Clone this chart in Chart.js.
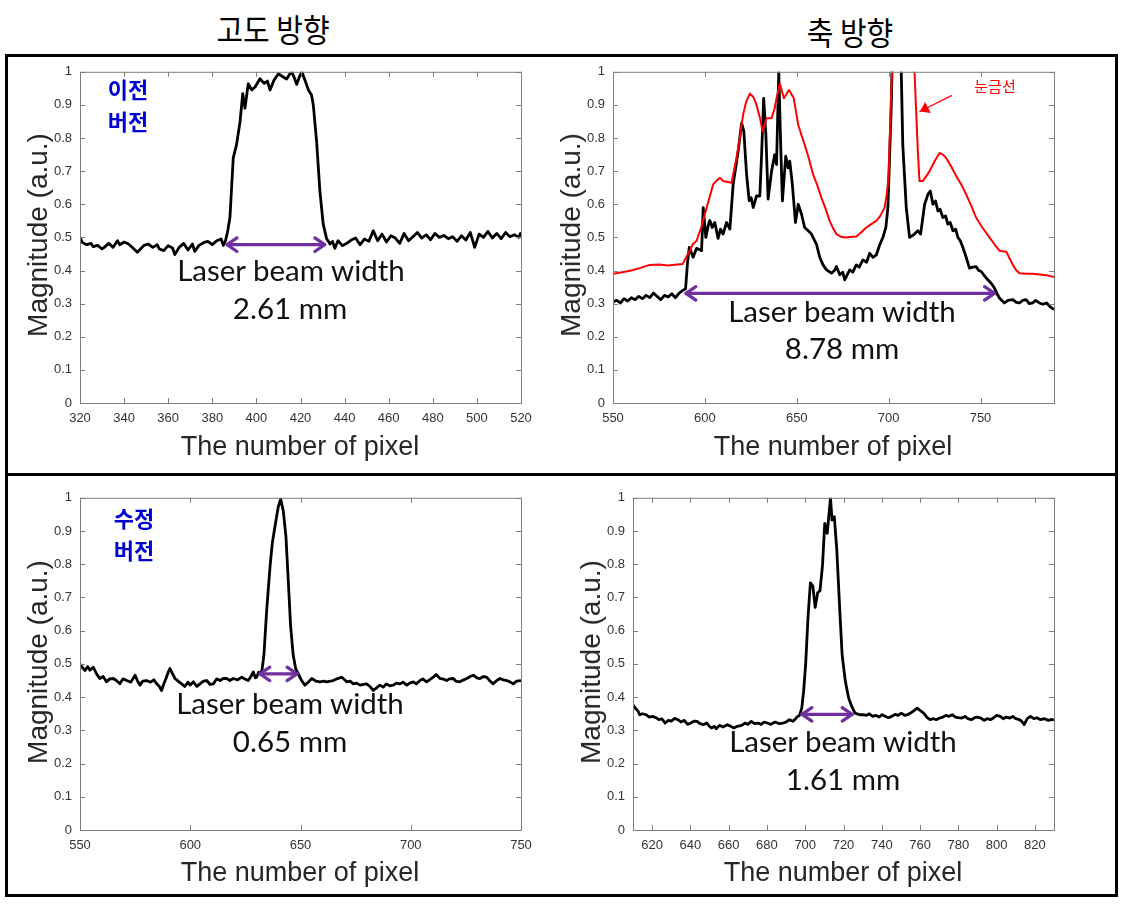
<!DOCTYPE html>
<html>
<head>
<meta charset="utf-8">
<script src="https://cdn.jsdelivr.net/npm/chart.js@4.4.1/dist/chart.umd.min.js"></script>
<style>
  body { margin:0; background:#fff; width:1129px; height:905px; position:relative; overflow:hidden; font-family:"Liberation Sans", Arial, sans-serif; }
  .box { position:absolute; border:3px solid #000; box-sizing:border-box; }
  canvas { position:absolute; }
  .txt { position:absolute; transform:translate(-50%,-50%); white-space:nowrap; line-height:1; }
  .head { font-family:"Noto Sans CJK KR"; font-size:29px; font-weight:400; color:#000; transform:translate(-50%,-50%) scaleY(1.1); }
  .note { font-family:Lato; font-size:29.5px; color:#111; }
  .ver { font-family:"Noto Sans CJK KR"; font-weight:700; font-size:22px; color:#0000d0; line-height:32px; text-align:center; }
  .red { font-family:"Noto Sans CJK KR"; font-size:15px; color:#f00; }
  .xt { font-size:27px; color:#262626; }
  .yt { font-size:28px; color:#262626; transform:translate(-50%,-50%) rotate(-90deg); }
</style>
</head>
<body>
<div class="box" style="left:5px;top:54px;width:1113px;height:422px"></div>
<div class="box" style="left:5px;top:473px;width:1113px;height:424px"></div>

<div class="txt head" style="left:273px;top:28px">고도 방향</div>
<div class="txt head" style="left:850px;top:31px">축 방향</div>

<canvas id="chartTL" width="526" height="382" style="left:20px;top:56px"></canvas>
<canvas id="chartTR" width="526" height="382" style="left:553px;top:56px"></canvas>
<canvas id="chartBL" width="526" height="383" style="left:20px;top:482px"></canvas>
<canvas id="chartBR" width="506" height="383" style="left:573px;top:482px"></canvas>

<div class="txt ver" style="left:128px;top:104px">이전<br>버전</div>
<div class="txt ver" style="left:134px;top:533px">수정<br>버전</div>
<div class="txt red" style="left:995px;top:85px">눈금선</div>

<div class="txt note" style="left:291px;top:270px">Laser beam width</div>
<div class="txt note" style="left:290px;top:308px">2.61 mm</div>
<div class="txt note" style="left:842px;top:311px">Laser beam width</div>
<div class="txt note" style="left:842px;top:348px">8.78 mm</div>
<div class="txt note" style="left:290px;top:703px">Laser beam width</div>
<div class="txt note" style="left:290px;top:741px">0.65 mm</div>
<div class="txt note" style="left:843px;top:741px">Laser beam width</div>
<div class="txt note" style="left:843px;top:779px">1.61 mm</div>

<div class="txt xt" style="left:300px;top:446px">The number of pixel</div>
<div class="txt xt" style="left:833px;top:446px">The number of pixel</div>
<div class="txt xt" style="left:300px;top:872px">The number of pixel</div>
<div class="txt xt" style="left:843px;top:872px">The number of pixel</div>
<div class="txt yt" style="left:38px;top:235px">Magnitude (a.u.)</div>
<div class="txt yt" style="left:571px;top:235px">Magnitude (a.u.)</div>
<div class="txt yt" style="left:38px;top:662px">Magnitude (a.u.)</div>
<div class="txt yt" style="left:591px;top:662px">Magnitude (a.u.)</div>

<script>
"use strict";

// tick labels
const yTicks = [0, 0.1, 0.2, 0.3, 0.4, 0.5, 0.6, 0.7, 0.8, 0.9, 1];
const tlTicks = [320, 340, 360, 380, 400, 420, 440, 460, 480, 500, 520];
const trTicks = [550, 600, 650, 700, 750];
const blTicks = [550, 600, 650, 700, 750];
const brTicks = [620, 640, 660, 680, 700, 720, 740, 760, 780, 800, 820];

// elevation direction, old version
const tlX = [320,321,323,325,326,328,330,331,333,335,337,338,340,342,344,346,347,349,351,353,
  355,356,358,360,362,363,365,367,369,371,372,374,376,378,380,382,384,385,386,387,
  388,389.5,391,392.6,393.8,394.8,396.3,397.9,399.5,401.6,403.5,405,406.2,408,410,412,413.7,415,416,417,
  418.3,419.5,420.6,422,423.6,425,425.8,427.3,428.8,430.3,431.8,433.4,434.5,435.6,437,439,441,443,445,447,
  449,451,453,455,457,459,461,463,465,467,469,471,473,475,477,479,481,483,485,487,
  489,491,493,495,497,499,501,503,505,507,509,511,513,515,517,519,520];
const tlY = [0.500,0.485,0.478,0.482,0.472,0.476,0.465,0.470,0.482,0.470,0.490,0.478,0.486,0.480,0.468,0.455,0.462,0.476,0.480,0.470,
  0.478,0.465,0.460,0.475,0.468,0.448,0.470,0.482,0.462,0.480,0.458,0.476,0.484,0.488,0.478,0.490,0.495,0.476,0.490,0.520,
  0.560,0.740,0.780,0.850,0.934,0.890,0.964,0.945,0.955,0.979,0.965,0.972,0.945,0.975,0.994,0.985,0.978,0.992,1.000,0.985,
  0.962,0.985,1.000,0.975,0.945,0.930,0.900,0.790,0.640,0.540,0.497,0.480,0.488,0.467,0.490,0.475,0.482,0.492,0.498,0.478,
  0.495,0.488,0.520,0.490,0.510,0.486,0.505,0.498,0.482,0.512,0.490,0.502,0.515,0.498,0.508,0.493,0.512,0.500,0.506,0.496,
  0.502,0.488,0.505,0.492,0.515,0.470,0.510,0.500,0.518,0.498,0.512,0.496,0.515,0.502,0.508,0.500,0.515];

// axial direction, old version (black profile)
const trX = [550,552,554,556,558,560,562,564,566,568,570,572,574,576,578,580,582,584,586,588,
  589.5,590.5,591.5,593.6,595.5,598.2,599.1,600.5,602,602.7,604,605.4,607.2,608.5,609.9,611.8,613.6,615.4,618.1,620,
  621.2,622.7,624.1,625.2,626.3,628.1,629.9,630.8,632,633.2,634.4,636.3,638,639,640.2,641.3,642.2,644,645.3,646.2,
  647.6,649.3,650.8,652.6,654.3,656.2,658,660.7,662.5,664.3,666.2,668.9,670.5,671.6,673.4,675,676.1,678.8,680.5,682.4,
  684,686,688,689.7,691.5,693.3,695.1,696.9,698.5,699.6,701.4,702,704,706,706.8,707.7,709.6,711.4,712.8,714.1,
  715.9,717.4,719.6,721.4,722.7,724.1,725.5,726.8,728,729.5,731,732.2,733.5,735,736.5,737.7,739,740.4,742.2,744,
  745.8,747.6,749,750.4,752,754,756,757.6,759,760.3,761.5,763,765,767.6,769.5,771.2,773,774.8,776.5,778.4,
  780,782,784,786,788,790];
const trBlack = [0.305,0.310,0.302,0.315,0.308,0.318,0.312,0.322,0.315,0.325,0.318,0.332,0.322,0.312,0.325,0.320,0.330,0.318,0.332,0.340,
  0.345,0.420,0.470,0.440,0.467,0.460,0.590,0.500,0.540,0.551,0.530,0.545,0.497,0.525,0.510,0.545,0.525,0.660,0.760,0.845,
  0.820,0.690,0.611,0.620,0.590,0.625,0.625,0.740,0.920,0.810,0.616,0.700,0.750,0.720,1.000,0.770,0.610,0.745,0.710,0.730,
  0.660,0.545,0.600,0.570,0.530,0.520,0.510,0.480,0.440,0.417,0.402,0.392,0.400,0.412,0.387,0.395,0.372,0.402,0.395,0.417,
  0.410,0.432,0.425,0.452,0.440,0.447,0.477,0.500,0.530,0.590,0.890,1.050,1.300,1.300,1.020,0.780,0.590,0.500,0.505,0.510,
  0.520,0.510,0.600,0.630,0.640,0.600,0.610,0.580,0.585,0.560,0.565,0.540,0.545,0.520,0.525,0.500,0.490,0.470,0.440,0.407,
  0.410,0.412,0.400,0.397,0.385,0.372,0.360,0.347,0.330,0.317,0.310,0.302,0.310,0.312,0.304,0.302,0.310,0.312,0.300,0.302,
  0.310,0.302,0.298,0.302,0.290,0.282];

// axial direction, old version (red, scale line)
const trRedX = [550,555,560,565,570,575,580,585,588,590,591.8,593.5,595.5,598,600,602,604.5,606.5,608.2,610,
  612,614.5,617.2,619,620.8,622.5,624.5,626.3,628.1,630,631.4,633.5,636.3,638,639,640.8,643,645.8,648.4,650.8,
  652.5,654.3,656.5,658.9,661,663.4,665.5,667.9,670,671.6,674,677,680,682.4,685,687.9,690.5,693.3,695.5,697.8,
  699,700,701.4,702.3,705,710,713,714.1,715.9,716.8,718.6,720.5,722.3,725,727.7,729.5,731.3,734,736.8,739.5,
  742.2,745,747.6,751,754.9,757.5,760.3,762,764,766,767.6,769.5,771.2,775,778.4,782,786,790];
const trRed = [0.390,0.395,0.400,0.408,0.417,0.418,0.415,0.418,0.420,0.442,0.460,0.480,0.490,0.530,0.571,0.610,0.660,0.672,0.680,0.670,
  0.668,0.665,0.740,0.800,0.870,0.910,0.934,0.925,0.900,0.860,0.820,0.860,0.860,0.890,0.920,0.965,0.920,0.945,0.920,0.840,
  0.810,0.780,0.740,0.690,0.660,0.620,0.590,0.550,0.525,0.510,0.502,0.500,0.502,0.503,0.515,0.530,0.540,0.550,0.565,0.590,
  0.630,0.690,0.940,1.050,1.300,1.300,1.200,1.000,0.760,0.670,0.670,0.685,0.700,0.730,0.755,0.750,0.740,0.715,0.685,0.660,
  0.630,0.595,0.560,0.530,0.500,0.480,0.460,0.458,0.457,0.435,0.417,0.400,0.392,0.390,0.390,0.388,0.386,0.380];

// elevation direction, revised version
const blX = [550,551,552.3,553.5,554.5,556,557.5,559,560.5,562,563.5,565.1,566.5,568.1,569.5,571.2,573,575,576,577.2,
  578.5,580.2,582,583.5,584.8,586,587,588,589,590,590.8,592,593.1,594.5,596.1,597.5,599,599.9,601.4,603,
  604.4,606,607.5,609,610.5,612,613.5,615,616.5,618,619.5,621.5,623.3,625,626.3,627.5,628.6,629.5,630.1,631,
  631.6,632.5,633.4,634.7,636.2,637.2,638.4,639.9,641,642.2,643.4,644.5,645.5,646.7,647.8,649,650.5,652,653.5,655.1,
  657,658.8,660.5,661.9,663.5,664.9,666.5,668.7,670,671,672.5,674,675.5,677,678.5,680,681.5,683,684.5,686,
  687.5,689,690.5,692.1,693.5,695.1,696.5,698.2,699.5,701.2,702.5,704.2,705.5,707.2,708.5,710.2,711.5,713.3,714.5,716.3,
  717.5,719.3,720.5,722.3,724,725.4,727,728.4,730,731.4,733,734.4,736,737.4,739,740.5,742,743.5,745,746.5,
  748,750];
const blY = [0.500,0.490,0.480,0.492,0.481,0.490,0.470,0.456,0.462,0.446,0.455,0.456,0.450,0.440,0.455,0.450,0.445,0.466,0.450,0.436,
  0.448,0.450,0.445,0.452,0.440,0.432,0.420,0.440,0.456,0.475,0.486,0.470,0.456,0.448,0.440,0.432,0.445,0.436,0.446,0.432,
  0.440,0.448,0.450,0.438,0.440,0.455,0.450,0.456,0.456,0.450,0.456,0.452,0.460,0.454,0.450,0.462,0.476,0.458,0.460,0.475,
  0.470,0.480,0.526,0.665,0.794,0.863,0.913,0.972,0.997,0.960,0.883,0.745,0.615,0.526,0.486,0.470,0.450,0.436,0.445,0.456,
  0.448,0.446,0.448,0.446,0.448,0.450,0.455,0.460,0.452,0.446,0.448,0.440,0.442,0.436,0.438,0.440,0.432,0.420,0.428,0.436,
  0.430,0.440,0.434,0.436,0.442,0.440,0.445,0.436,0.442,0.446,0.440,0.450,0.455,0.446,0.452,0.460,0.468,0.456,0.455,0.450,
  0.455,0.456,0.448,0.446,0.452,0.456,0.462,0.466,0.458,0.456,0.462,0.460,0.448,0.440,0.450,0.456,0.452,0.450,0.446,0.440,
  0.448,0.450];

// axial direction, revised version
const brX = [610,611.5,612.7,613.5,615,616.8,618.5,620.2,622,623.5,625,626.8,628.5,630,631.8,633.5,635,636.8,638.5,640.2,
  642,643.5,645,646.8,648.5,650,651,652.5,653.5,655.2,657,659.3,661,662.7,664.5,666.8,668.5,670,671.8,673.5,
  675.2,677,678.5,680.2,682,684.3,686.5,688.5,690,691.8,693.5,695,696,697,698.2,699.2,700.2,701.5,702.7,704,
  705.2,706.5,707.7,709,710.2,711.5,712.3,713.2,714,715.2,716.5,718.2,719.3,721,722.7,724.3,726,728.5,730.2,732,
  733.5,735.2,737,738.5,740.2,742,743.5,745.2,747,748.5,750.2,752,753.5,755,756.5,758.5,760,761.9,763.5,765.2,
  767,768.5,770.2,772,773.5,775.2,776.8,778.5,780,781.8,783.5,785,786.8,788.5,790,791.8,793.5,795,796.8,798.5,
  800,801.9,803.5,805,806.9,808.5,810,811.9,813,814.4,816,817.7,819.5,821,823,825,827,829,830];
const brY = [0.377,0.365,0.357,0.347,0.350,0.347,0.340,0.342,0.338,0.332,0.335,0.322,0.330,0.328,0.336,0.332,0.325,0.330,0.318,0.322,
  0.328,0.327,0.320,0.317,0.322,0.312,0.307,0.312,0.305,0.315,0.310,0.317,0.312,0.307,0.312,0.315,0.322,0.318,0.327,0.320,
  0.322,0.318,0.325,0.322,0.318,0.325,0.320,0.322,0.325,0.332,0.327,0.335,0.342,0.345,0.367,0.420,0.496,0.645,0.744,0.734,
  0.670,0.714,0.720,0.794,0.923,0.893,0.943,1.000,0.933,0.943,0.843,0.645,0.526,0.446,0.397,0.372,0.352,0.347,0.347,0.345,
  0.350,0.342,0.345,0.340,0.347,0.342,0.338,0.342,0.348,0.345,0.352,0.345,0.347,0.352,0.358,0.367,0.360,0.352,0.340,0.332,
  0.335,0.332,0.337,0.340,0.345,0.342,0.347,0.340,0.338,0.337,0.342,0.335,0.332,0.338,0.340,0.337,0.330,0.335,0.332,0.338,
  0.345,0.342,0.335,0.340,0.337,0.342,0.335,0.332,0.328,0.317,0.335,0.342,0.335,0.338,0.332,0.335,0.330,0.333,0.330];

// beam width markers: [start pixel, end pixel, magnitude]
const tlBeam = [386.7, 431, 0.478];
const trBeam = [589.7, 757.6, 0.331];
const blBeam = [631.6, 648.4, 0.470];
const brBeam = [698.3, 724.5, 0.348];
// pointer to the red curve: [from x, from y, to x, to y]
const redPointer = [734.2, 0.928, 717, 0.88];

const AX_W = 60, PAD_T = 12, PAD_R = 25, AX_H = 35;

function arrowHead(ctx, x, y, ang, len, fill) {
  const a1 = ang - 0.6, a2 = ang + 0.6;
  ctx.beginPath();
  ctx.moveTo(x - len * Math.cos(a1), y - len * Math.sin(a1));
  ctx.lineTo(x, y);
  ctx.lineTo(x - len * Math.cos(a2), y - len * Math.sin(a2));
  if (fill) {
    ctx.closePath();
    ctx.fill();
  } else {
    ctx.stroke();
  }
}

// box, inward ticks and arrows like the matlab figure
const matlabAxes = {
  id: "matlabAxes",
  afterDatasetsDraw(chart, args, opts) {
    const { ctx, chartArea: a, scales } = chart;
    const x = scales.x, y = scales.y;
    ctx.save();
    ctx.strokeStyle = "#7f7f7f";
    ctx.lineWidth = 1;
    ctx.beginPath();
    x.ticks.forEach((t) => {
      const px = Math.round(x.getPixelForValue(t.value)) + 0.5;
      ctx.moveTo(px, a.bottom);
      ctx.lineTo(px, a.bottom - 5);
      ctx.moveTo(px, a.top);
      ctx.lineTo(px, a.top + 5);
    });
    y.ticks.forEach((t) => {
      const py = Math.round(y.getPixelForValue(t.value)) + 0.5;
      ctx.moveTo(a.left, py);
      ctx.lineTo(a.left + 5, py);
      ctx.moveTo(a.right, py);
      ctx.lineTo(a.right - 5, py);
    });
    ctx.stroke();
    ctx.strokeRect(a.left + 0.5, a.top + 0.5, a.right - a.left, a.bottom - a.top);

    if (opts.beam) {
      const [b0, b1, by] = opts.beam;
      const x1 = x.getPixelForValue(b0), x2 = x.getPixelForValue(b1), py = y.getPixelForValue(by);
      ctx.strokeStyle = "#7030a0";
      ctx.lineWidth = 3.2;
      ctx.lineCap = "round";
      ctx.lineJoin = "round";
      ctx.beginPath();
      ctx.moveTo(x1, py);
      ctx.lineTo(x2, py);
      ctx.stroke();
      arrowHead(ctx, x2, py, 0, 12, false);
      arrowHead(ctx, x1, py, Math.PI, 12, false);
    }
    if (opts.pointer) {
      const [fx, fy, tx, ty] = opts.pointer;
      const x1 = x.getPixelForValue(fx), y1 = y.getPixelForValue(fy);
      const x2 = x.getPixelForValue(tx), y2 = y.getPixelForValue(ty);
      ctx.strokeStyle = "#ff0000";
      ctx.fillStyle = "#ff0000";
      ctx.lineWidth = 1.2;
      ctx.beginPath();
      ctx.moveTo(x1, y1);
      ctx.lineTo(x2, y2);
      ctx.stroke();
      arrowHead(ctx, x2, y2, Math.atan2(y2 - y1, x2 - x1), 11, true);
    }
    ctx.restore();
  },
};

function toPoints(xs, ys) {
  return xs.map((v, i) => ({ x: v, y: ys[i] }));
}

function makePlot(id, xMin, xMax, xTicks, datasets, extra) {
  const tickFont = { family: "Liberation Sans", size: 13 };
  return new Chart(document.getElementById(id), {
    type: "line",
    data: { datasets: datasets },
    plugins: [matlabAxes],
    options: {
      responsive: false,
      animation: false,
      events: [],
      layout: { padding: { left: 0, top: PAD_T, right: PAD_R, bottom: 0 } },
      elements: { point: { radius: 0 }, line: { tension: 0 } },
      plugins: {
        legend: { display: false },
        tooltip: { enabled: false },
        matlabAxes: extra,
      },
      scales: {
        x: {
          type: "linear",
          min: xMin,
          max: xMax,
          grid: { display: false, drawTicks: false },
          border: { display: false },
          afterBuildTicks: (s) => {
            s.ticks = xTicks.map((v) => ({ value: v }));
          },
          afterFit: (s) => {
            s.height = AX_H;
          },
          ticks: {
            padding: 8,
            color: "#333",
            font: tickFont,
            maxRotation: 0,
            autoSkip: false,
            callback: (v) => String(v),
          },
        },
        y: {
          min: 0,
          max: 1,
          grid: { display: false, drawTicks: false },
          border: { display: false },
          afterBuildTicks: (s) => {
            s.ticks = yTicks.map((v) => ({ value: v }));
          },
          afterFit: (s) => {
            s.width = AX_W;
          },
          ticks: {
            padding: 8,
            color: "#333",
            font: tickFont,
            autoSkip: false,
            callback: (v) => String(v),
          },
        },
      },
    },
  });
}

function blackLine(xs, ys) {
  return {
    data: toPoints(xs, ys),
    borderColor: "#000",
    borderWidth: 2.8,
    borderJoinStyle: "round",
  };
}

makePlot("chartTL", 320, 520, tlTicks, [blackLine(tlX, tlY)], { beam: tlBeam });

makePlot("chartTR", 550, 790, trTicks, [
  {
    data: toPoints(trRedX, trRed),
    borderColor: "#ff0000",
    borderWidth: 2,
    borderJoinStyle: "round",
  },
  blackLine(trX, trBlack),
], { beam: trBeam, pointer: redPointer });

makePlot("chartBL", 550, 750, blTicks, [blackLine(blX, blY)], { beam: blBeam });

makePlot("chartBR", 610, 830, brTicks, [blackLine(brX, brY)], { beam: brBeam });
</script>
</body>
</html>
